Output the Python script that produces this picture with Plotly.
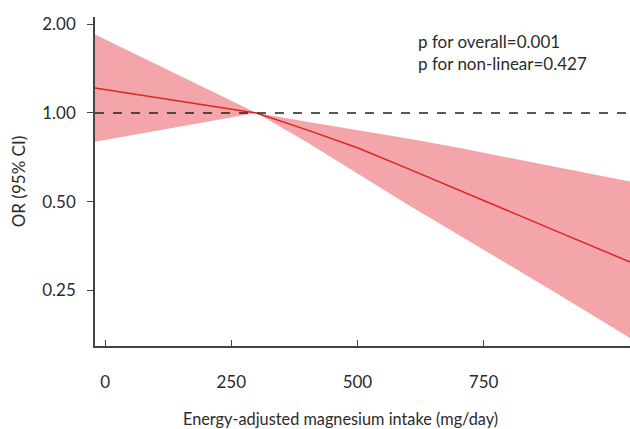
import plotly.graph_objects as go

# Data
intake = [-20, 100, 200, 300, 400, 500, 600, 700, 800, 900, 1040]
or_est = [1.216, 1.129, 1.062, 1.000, 0.876, 0.762, 0.647, 0.547, 0.464, 0.393, 0.312]
ci_upper = [1.847, 1.465, 1.213, 1.000, 0.933, 0.874, 0.819, 0.762, 0.705, 0.650, 0.585]
ci_lower = [0.799, 0.869, 0.932, 1.000, 0.795, 0.624, 0.488, 0.386, 0.306, 0.241, 0.172]

x_ticks = [0, 250, 500, 750]
y_ticks = [0.25, 0.5, 1.0, 2.0]
y_tick_labels = ["0.25", "0.50", "1.00", "2.00"]

x_title = "Energy-adjusted magnesium intake (mg/day)"
y_title = "OR (95% CI)"
annot_lines = ["p for overall=0.001", "p for non-linear=0.427"]

FONT = "Lato"
TXT = "#2b2b2b"

fig = go.Figure()
fig.add_trace(go.Scatter(x=intake, y=ci_lower, mode="lines", line=dict(width=0),
                         hoverinfo="skip", showlegend=False))
fig.add_trace(go.Scatter(x=intake, y=ci_upper, mode="lines", line=dict(width=0),
                         fill="tonexty", fillcolor="#f4a5a9", hoverinfo="skip",
                         showlegend=False))
fig.add_trace(go.Scatter(x=intake, y=or_est, mode="lines",
                         line=dict(color="#d9261f", width=1.5),
                         showlegend=False))

fig.add_shape(type="line", xref="paper", yref="y", x0=0, x1=1, y0=1, y1=1,
              line=dict(color="#222222", width=1.5, dash="dash"), layer="above")

fig.add_annotation(xref="paper", yref="paper", x=0.6, y=0.965, xanchor="left",
                   yanchor="top", align="left", showarrow=False,
                   text="<br>".join(annot_lines),
                   font=dict(family=FONT, size=17, color=TXT))

# x-axis title (off-centre in the reference)
fig.add_annotation(xref="paper", yref="paper", x=0.458, y=-0.185, xanchor="center",
                   yanchor="top", showarrow=False, text=x_title,
                   font=dict(family=FONT, size=16.3, color=TXT))

fig.update_layout(
    width=630, height=429,
    margin=dict(l=95, r=0, t=17, b=83),
    paper_bgcolor="white", plot_bgcolor="white",
    font=dict(family=FONT, size=17, color=TXT),
    xaxis=dict(range=[-20, 1040], tickvals=x_ticks, ticks="inside", ticklen=6,
               tickcolor="#444444", showline=True, linecolor="#444444", linewidth=1.5,
               showgrid=False, zeroline=False, ticklabelstandoff=20,
               tickfont=dict(family=FONT, size=17, color=TXT)),
    yaxis=dict(type="log", range=[-0.7913, 0.3259], tickvals=y_ticks,
               ticktext=y_tick_labels, ticks="outside", ticklen=6,
               tickcolor="#444444", showline=True, linecolor="#444444", linewidth=1.5,
               showgrid=False, zeroline=False, ticklabelstandoff=8,
               title=dict(text=y_title, standoff=12,
                          font=dict(family=FONT, size=17, color=TXT)),
               tickfont=dict(family=FONT, size=17, color=TXT)),
)

fig.write_html("out.html", config={"displayModeBar": False},
               post_script="document.body.style.margin='0';document.body.style.overflow='hidden';")
